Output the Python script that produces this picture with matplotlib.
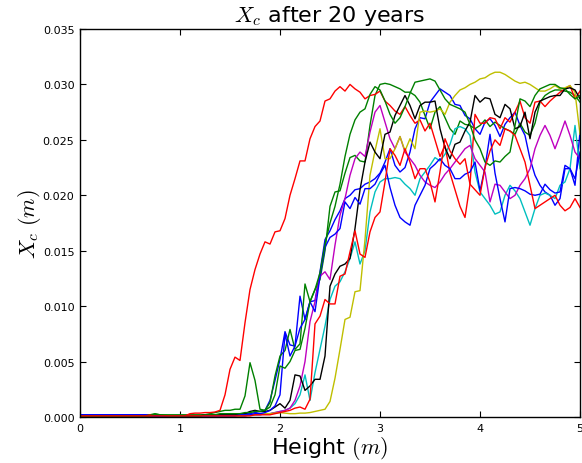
import numpy as np
import matplotlib
matplotlib.use('Agg')
import matplotlib.pyplot as plt
from matplotlib.ticker import FormatStrFormatter, MultipleLocator

plt.rcParams['mathtext.fontset'] = 'cm'
plt.rcParams['font.family'] = 'DejaVu Sans'

# sample heights along the column (m), every 5 cm
height = np.linspace(0.0, 5.0, 101)

# Xc per run, in mm (rows of 10 samples = 0.5 m)
xc_blue_a = [
    0.2, 0.2, 0.2, 0.2, 0.2, 0.2, 0.2, 0.2, 0.2, 0.2,
    0.2, 0.2, 0.2, 0.2, 0.2, 0.2, 0.1, 0.1, 0.1, 0.1,
    0.1, 0.1, 0.1, 0.1, 0.1, 0.1, 0.1, 0.1, 0.2, 0.2,
    0.2, 0.2, 0.25, 0.3, 0.3, 0.4, 0.5, 0.6, 1.5, 3.3,
    5.2, 7.7, 6.5, 6.4, 10.9, 8.8, 10.4, 10.5, 13.1, 16.0,
    16.8, 17.8, 18.6, 19.7, 20.0, 20.5, 20.6, 21.0, 21.2, 21.5,
    22.0, 23.0, 24.2, 22.7, 22.1, 22.5, 23.9, 26.0, 27.0, 26.9,
    28.4, 29.0, 29.6, 29.3, 29.0, 28.2, 28.1, 27.2, 26.9, 26.0,
    25.5, 26.6, 26.9, 26.3, 25.3, 26.4, 27.0, 27.5, 26.3, 25.4,
    23.3, 21.8, 20.9, 20.3, 20.0, 19.1, 19.7, 22.4, 22.4, 20.9,
    25.7]

xc_green_b = [
    0.1, 0.1, 0.1, 0.1, 0.1, 0.1, 0.1, 0.1, 0.1, 0.1,
    0.1, 0.1, 0.1, 0.1, 0.2, 0.3, 0.2, 0.2, 0.2, 0.2,
    0.2, 0.2, 0.2, 0.2, 0.2, 0.2, 0.3, 0.4, 0.5, 0.6,
    0.6, 0.7, 0.7, 1.9, 4.9, 3.3, 0.7, 0.6, 1.3, 3.7,
    5.5, 6.0, 7.9, 6.1, 6.6, 12.0, 10.4, 11.5, 12.4, 15.0,
    19.0, 20.3, 20.4, 22.0, 23.4, 23.6, 23.1, 23.0, 26.3, 29.0,
    30.0, 30.1, 30.0, 29.8, 29.6, 29.3, 29.3, 29.0, 28.4, 27.2,
    26.0, 27.5, 28.0, 27.0, 26.0, 25.5, 26.7, 26.4, 26.3, 26.0,
    26.3, 26.8, 26.2, 26.6, 26.3, 26.0, 25.8, 25.5, 26.5, 25.7,
    25.4, 26.5, 28.4, 29.0, 29.3, 29.5, 29.5, 29.4, 29.3, 29.0,
    28.4]

xc_red_a = [
    0.1, 0.1, 0.1, 0.1, 0.1, 0.1, 0.1, 0.1, 0.1, 0.1,
    0.1, 0.1, 0.1, 0.1, 0.2, 0.2, 0.1, 0.1, 0.1, 0.1,
    0.1, 0.1, 0.3, 0.35, 0.35, 0.4, 0.4, 0.45, 0.6, 2.0,
    4.3, 5.4, 5.1, 8.5, 11.5, 13.3, 14.7, 15.8, 15.6, 16.7,
    16.8, 17.9, 20.0, 21.5, 23.1, 23.1, 25.1, 26.2, 26.7, 28.5,
    28.7, 29.4, 29.8, 29.4, 30.0, 29.6, 29.3, 28.7, 29.0, 29.1,
    29.4, 28.5, 28.1, 27.6, 27.3, 28.0, 27.2, 26.5, 26.8, 25.8,
    26.5, 25.0, 23.5, 24.5, 22.0, 20.5, 19.0, 18.0, 21.0, 27.3,
    26.5, 26.5, 27.0, 26.9, 26.0, 27.0, 26.6, 27.5, 28.5, 27.0,
    26.5, 28.4, 28.5, 28.0, 28.5, 28.9, 29.3, 29.6, 29.9, 28.7,
    29.4]

xc_cyan = [
    0.1, 0.1, 0.1, 0.1, 0.1, 0.1, 0.1, 0.1, 0.1, 0.1,
    0.1, 0.1, 0.1, 0.1, 0.1, 0.1, 0.1, 0.1, 0.1, 0.1,
    0.1, 0.1, 0.1, 0.1, 0.1, 0.1, 0.1, 0.1, 0.1, 0.1,
    0.1, 0.1, 0.1, 0.1, 0.2, 0.2, 0.2, 0.3, 0.3, 0.4,
    0.5, 0.6, 0.8, 1.2, 2.0, 3.8, 1.5, 4.0, 6.1, 8.2,
    10.6, 11.8, 12.2, 13.1, 14.3, 15.8, 13.8, 15.0, 18.5, 20.3,
    21.2, 21.5, 21.5, 21.6, 21.5, 21.0, 20.6, 20.0, 21.5, 22.1,
    22.7, 23.4, 23.1, 23.7, 24.6, 26.0, 26.2, 26.0, 25.4, 22.1,
    20.3, 19.7, 19.1, 18.3, 18.5, 20.0, 20.9, 20.4, 19.7, 18.5,
    17.3, 18.8, 20.0, 20.2, 20.0, 19.7, 20.9, 21.2, 22.4, 26.3,
    22.4]

xc_magenta = [
    0.1, 0.1, 0.1, 0.1, 0.1, 0.1, 0.1, 0.1, 0.1, 0.1,
    0.1, 0.1, 0.1, 0.1, 0.1, 0.1, 0.1, 0.1, 0.1, 0.1,
    0.1, 0.1, 0.1, 0.1, 0.1, 0.1, 0.1, 0.1, 0.1, 0.1,
    0.1, 0.1, 0.1, 0.1, 0.2, 0.2, 0.2, 0.3, 0.3, 0.4,
    0.5, 0.6, 0.8, 1.5, 2.8, 5.0, 8.6, 10.4, 12.7, 13.1,
    12.4, 15.5, 18.2, 19.7, 21.8, 23.3, 23.9, 23.5, 25.7, 27.5,
    28.1, 26.6, 25.1, 24.2, 25.3, 23.9, 23.3, 22.7, 21.8, 21.2,
    20.9, 20.7, 21.2, 21.9, 22.4, 23.0, 23.6, 24.2, 24.5, 23.3,
    22.7, 22.1, 19.4, 21.0, 20.9, 20.3, 19.7, 20.0, 20.9, 21.5,
    22.4, 24.2, 25.4, 26.3, 25.4, 24.2, 25.4, 26.7, 25.4, 23.9,
    23.3]

xc_yellow = [
    0.1, 0.1, 0.1, 0.1, 0.1, 0.1, 0.1, 0.1, 0.1, 0.1,
    0.1, 0.1, 0.1, 0.1, 0.1, 0.1, 0.1, 0.1, 0.1, 0.1,
    0.1, 0.1, 0.1, 0.1, 0.1, 0.1, 0.1, 0.1, 0.1, 0.1,
    0.1, 0.1, 0.1, 0.2, 0.2, 0.2, 0.3, 0.3, 0.3, 0.35,
    0.4, 0.35, 0.3, 0.3, 0.35, 0.35, 0.4, 0.5, 0.6, 0.7,
    1.4, 3.5, 6.1, 8.8, 9.0, 11.3, 11.4, 16.0, 21.8, 24.0,
    26.0, 23.3, 23.3, 24.2, 25.3, 24.0, 25.1, 24.2, 27.5, 27.6,
    27.5, 27.6, 27.8, 27.3, 28.4, 29.0, 29.5, 29.7, 30.0, 30.2,
    30.5, 30.6, 30.9, 31.1, 31.1, 30.9, 30.6, 30.3, 30.1, 30.2,
    30.0, 29.7, 29.4, 29.4, 29.6, 29.9, 29.6, 29.7, 29.9, 29.3,
    25.5]

xc_black = [
    0.1, 0.1, 0.1, 0.1, 0.1, 0.1, 0.1, 0.1, 0.1, 0.1,
    0.1, 0.1, 0.1, 0.1, 0.1, 0.1, 0.1, 0.1, 0.1, 0.1,
    0.1, 0.1, 0.1, 0.1, 0.1, 0.2, 0.2, 0.2, 0.2, 0.2,
    0.2, 0.2, 0.3, 0.3, 0.5, 0.6, 0.5, 0.5, 0.6, 0.9,
    1.2, 0.8, 1.5, 3.8, 3.7, 2.4, 2.8, 3.4, 3.4, 5.5,
    11.8, 12.9, 13.6, 13.8, 14.3, 17.0, 20.5, 23.0, 24.8, 23.9,
    23.3, 25.5, 25.7, 27.2, 28.1, 29.0, 28.1, 26.9, 28.1, 28.4,
    28.4, 28.5, 26.0, 24.3, 23.3, 24.6, 24.8, 25.8, 26.6, 29.0,
    28.4, 28.8, 28.7, 27.3, 27.0, 28.2, 27.8, 26.0, 26.2, 27.5,
    25.1, 27.5, 28.5, 28.7, 28.9, 29.0, 29.0, 29.6, 29.7, 29.5,
    28.7]

xc_blue_b = [
    0.2, 0.2, 0.2, 0.2, 0.2, 0.2, 0.2, 0.2, 0.2, 0.2,
    0.2, 0.2, 0.2, 0.2, 0.1, 0.1, 0.1, 0.1, 0.1, 0.1,
    0.1, 0.1, 0.1, 0.1, 0.1, 0.1, 0.1, 0.1, 0.1, 0.1,
    0.1, 0.1, 0.2, 0.2, 0.2, 0.3, 0.3, 0.4, 0.6, 1.0,
    2.0, 7.5, 5.5, 6.4, 8.0, 8.8, 10.4, 9.5, 12.7, 15.3,
    16.2, 16.5, 17.0, 19.4, 18.8, 19.8, 19.2, 20.6, 20.6, 21.0,
    21.9, 22.7, 20.7, 19.1, 18.0, 17.6, 17.3, 19.1, 20.0, 20.9,
    22.4, 22.8, 23.3, 22.7, 22.4, 21.5, 21.5, 21.9, 22.1, 23.0,
    20.4, 22.5, 25.5, 22.0, 19.7, 17.6, 20.6, 20.7, 20.6, 20.4,
    20.1, 20.0, 20.1, 21.0, 20.5, 20.2, 20.3, 22.7, 22.4, 21.5,
    23.9]

xc_green_a = [
    0.1, 0.1, 0.1, 0.1, 0.1, 0.1, 0.1, 0.1, 0.1, 0.1,
    0.1, 0.1, 0.1, 0.1, 0.15, 0.25, 0.2, 0.15, 0.1, 0.1,
    0.1, 0.1, 0.1, 0.1, 0.1, 0.2, 0.2, 0.2, 0.3, 0.3,
    0.3, 0.3, 0.3, 0.4, 0.4, 0.5, 0.5, 0.6, 0.9, 2.0,
    4.6, 4.4, 5.0, 6.0, 6.1, 8.0, 10.4, 11.5, 13.0, 15.6,
    17.5, 19.0, 21.0, 23.5, 25.5, 26.8, 27.5, 27.8, 29.1, 29.8,
    29.5, 28.5, 27.3, 26.5, 27.0, 28.0, 29.2, 30.2, 30.3, 30.4,
    30.5, 30.3, 29.5, 28.7, 28.2, 28.0, 27.8, 27.5, 26.4, 25.0,
    24.2, 23.0, 22.7, 23.1, 23.0, 23.5, 23.9, 26.3, 28.7, 28.5,
    28.0, 29.0, 29.6, 29.8, 30.0, 30.0, 29.7, 29.6, 29.1, 28.7,
    29.0]

xc_red_b = [
    0.1, 0.1, 0.1, 0.1, 0.1, 0.1, 0.1, 0.1, 0.1, 0.1,
    0.1, 0.1, 0.1, 0.1, 0.1, 0.1, 0.1, 0.1, 0.1, 0.1,
    0.1, 0.1, 0.1, 0.1, 0.1, 0.1, 0.1, 0.1, 0.1, 0.1,
    0.1, 0.1, 0.1, 0.1, 0.1, 0.2, 0.2, 0.2, 0.2, 0.3,
    0.4, 0.5, 0.6, 0.8, 0.9, 0.7, 1.6, 8.4, 9.1, 10.6,
    10.2, 10.2, 12.7, 12.9, 14.9, 16.8, 14.7, 14.4, 16.7, 18.0,
    18.5, 21.2, 24.2, 23.6, 22.7, 24.2, 23.0, 21.5, 22.4, 22.4,
    21.2, 19.4, 22.1, 25.1, 24.0, 23.3, 22.8, 23.3, 21.0, 20.5,
    20.0, 22.5, 24.0, 25.0, 24.5, 26.0, 25.8, 25.4, 24.2, 23.0,
    20.9, 18.8, 19.1, 19.4, 19.7, 20.0, 19.1, 18.6, 18.9, 19.7,
    18.9]

runs = [xc_blue_a, xc_green_b, xc_red_a, xc_cyan, xc_magenta,
        xc_yellow, xc_black, xc_blue_b, xc_green_a, xc_red_b]
colors = ['b', 'g', 'r', 'c', 'm', 'y', 'k', 'b', 'g', 'r']

fig = plt.figure(figsize=(5.82, 4.64), dpi=100)
ax = fig.add_axes([80 / 582, 46 / 464, 500 / 582, 388 / 464])

for xc, col in zip(runs, colors):
    ax.plot(height, np.array(xc) / 1000.0, color=col, lw=1.0)

ax.set_xlim(0, 5)
ax.set_ylim(0, 0.035)
ax.xaxis.set_major_locator(MultipleLocator(1))
ax.yaxis.set_major_locator(MultipleLocator(0.005))
ax.yaxis.set_major_formatter(FormatStrFormatter('%.3f'))
ax.tick_params(direction='in', length=4, width=0.8, labelsize=8,
               top=True, right=True, pad=4)
for sp in ax.spines.values():
    sp.set_linewidth(1.0)

ax.set_title(r'$X_c$ after 20 years', fontsize=16)
ax.set_xlabel(r'Height $(m)$', fontsize=16, labelpad=1)
ax.set_ylabel(r'$X_c\ (m)$', fontsize=16, labelpad=0)

fig.savefig('out.png', dpi=100)
